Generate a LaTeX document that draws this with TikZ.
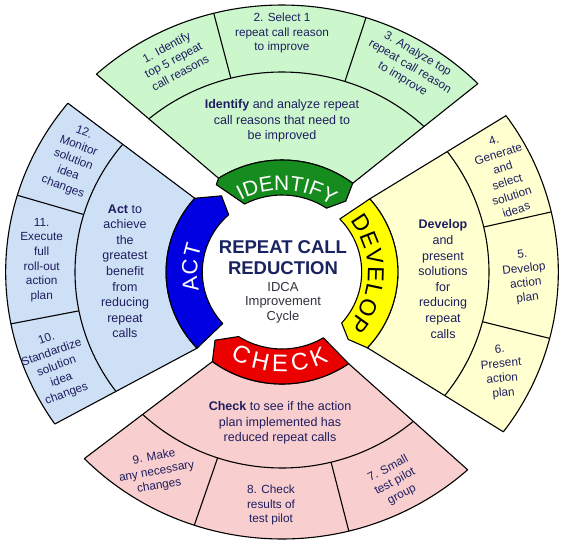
\documentclass[tikz,border=0pt]{standalone}
\usepackage{fontspec}
\setmainfont{Liberation Sans}
\usetikzlibrary{decorations.text}
\definecolor{gfill}{RGB}{204,247,204}
\definecolor{yfill}{RGB}{255,255,208}
\definecolor{rfill}{RGB}{248,206,206}
\definecolor{bfill}{RGB}{206,224,246}
\definecolor{gband}{RGB}{22,140,30}
\definecolor{yband}{RGB}{255,255,0}
\definecolor{rband}{RGB}{235,0,0}
\definecolor{bband}{RGB}{0,0,225}
\definecolor{txt}{RGB}{30,30,95}
\definecolor{navy}{RGB}{25,35,95}
\definecolor{subc}{RGB}{50,50,60}
\newcommand\mysector[6]{%
 \pgfmathsetmacro\aO{#2+asin(#3/267)}%
 \pgfmathsetmacro\bO{#4+asin(#5/267)}%
 \pgfmathsetmacro\aI{#2+asin(#3/112)}%
 \pgfmathsetmacro\bI{#4+asin(#5/112)}%
 \pgfmathsetmacro\aM{#2+asin(#3/#6)}%
 \pgfmathsetmacro\bM{#4+asin(#5/#6)}%
 \filldraw[fill=#1] (\aO:267) arc[start angle=\aO, end angle=\bO, radius=267] -- (\bI:112) arc[start angle=\bI, end angle=\aI, radius=112] -- cycle;
 \draw (\aM:#6) arc[start angle=\aM, end angle=\bM, radius=#6];
}
\tikzset{
 cell/.style={align=center, text=txt, font=\fontsize{11.8}{14.6}\selectfont, inner sep=0pt},
 midtext/.style={align=center, text=txt, font=\fontsize{12.5}{15.6}\selectfont, inner sep=0pt},
 bandtext/.style={decorate, decoration={text along path, text align={fit to path}, text={#1}}}
}
\begin{document}
\begin{tikzpicture}[x=1pt,y=1pt,line join=round]
\useasboundingbox (-282,-272) rectangle (282,272);
\fill[white] (-282,-272) rectangle (282,272);
\begin{scope}[xscale=1.035, line width=1.1pt]
 % sectors
 \mysector{gfill}{138.6}{-29.8}{39.5}{25}{200}
 \mysector{yfill}{32.3}{16.5}{-32.6}{-19.4}{200}
 \mysector{rfill}{317.3}{-23.7}{218.1}{29}{196}
 \mysector{bfill}{208.9}{27}{142.2}{-6.6}{200}
 % dividers
 \draw (104.3:200) -- (104.3:267);
 \draw (72.3:200) -- (72.3:267);
 \draw (13:200) -- (13:267);
 \draw (-14.4:200) -- (-14.4:267);
 \draw (251.5:196) -- (251.5:267);
 \draw (284:196) -- (284:267);
 \draw (163.3:200) -- (163.3:267);
 \draw (191.2:200) -- (191.2:267);
 % bands
 \filldraw[fill=gband] (123.17:112) arc[start angle=123.17, end angle=52.4, radius=112] -- (49:94) -- (56:77) arc[start angle=56, end angle=118, radius=77] -- (126:108) -- cycle;
 \filldraw[fill=yband] (40.77:112) arc[start angle=40.77, end angle=-42.57, radius=112] -- (-46.5:93) -- (-41.5:77) arc[start angle=-41.5, end angle=43.5, radius=77] -- cycle;
 \filldraw[fill=rband] (305.08:112) arc[start angle=305.08, end angle=233.1, radius=112] -- (226.5:94) -- (237:77) arc[start angle=237, end angle=301.3, radius=77] -- cycle;
 \filldraw[fill=bband] (222.85:112) arc[start angle=222.85, end angle=138.82, radius=112] -- (127.5:96) -- (132:77) arc[start angle=132, end angle=222, radius=77] -- cycle;
\end{scope}
% band texts
\path[bandtext={|\fontsize{21}{21}\selectfont\color{white}|IDENTIFY}] ({84.9*cos(119)},{82*sin(119)}) arc[start angle=119, end angle=57, x radius=84.9, y radius=82];
\path[bandtext={|\fontsize{23}{23}\selectfont\color{black}|DEVELOP}] ({85.9*cos(38)},{83*sin(38)}) arc[start angle=38, end angle=-40, x radius=85.9, y radius=83];
\path[bandtext={|\fontsize{24}{24}\selectfont\color{white}|CHECK}] ({103.5*cos(240)},{100*sin(240)}) arc[start angle=240, end angle=297, x radius=103.5, y radius=100];
\path[bandtext={|\fontsize{22}{22}\selectfont\color{white}|ACT}] ({84.9*cos(193)},{82*sin(193)}) arc[start angle=193, end angle=161, x radius=84.9, y radius=82];
% centre
\node[align=center, text=navy, font=\bfseries\fontsize{18.5}{21.6}\selectfont, inner sep=0pt] (title) at (1,14.5) {REPEAT CALL\\REDUCTION};
\node[align=center, text=subc, font=\fontsize{13}{14.5}\selectfont, inner sep=0pt] (subt) at (1,-30.7) {IDCA\\Improvement\\Cycle};
% green
\node[midtext] (gmid) at (0,151) {\textbf{Identify} and analyze repeat\\call reasons that need to\\be improved};
\node[cell, rotate=28] (c1) at (-108.7,212) {1. Identify\\top 5 repeat\\call reasons};
\node[cell] (c2) at (0,239) {2. Select 1\\repeat call reason\\to improve};
\node[cell, rotate=-31] (c3) at (128,205.3) {3. Analyze top\\repeat call reason\\to improve};
% yellow
\node[midtext] (ymid) at (161,-7) {\textbf{Develop}\\and\\present\\solutions\\for\\reducing\\repeat\\calls};
\node[cell, rotate=18] (c4) at (223,97) {4.\\Generate\\and\\select\\solution\\ideas};
\node[cell, rotate=7] (c5) at (243,-4.7) {5.\\Develop\\action\\plan};
\node[cell, rotate=5] (c6) at (219.7,-99.7) {6.\\Present\\action\\plan};
% red
\node[midtext] (rmid) at (-2,-151) {\textbf{Check} to see if the action\\plan implemented has\\reduced repeat calls};
\node[cell, rotate=28] (c7) at (113,-209.7) {7. Small\\test pilot\\group};
\node[cell] (c8) at (-11,-233) {8. Check\\results of\\test pilot};
\node[cell, rotate=10] (c9) at (-125.3,-199.7) {9. Make\\any necessary\\changes};
% blue
\node[midtext] (bmid) at (-157,0.7) {\textbf{Act} to\\achieve\\the\\greatest\\benefit\\from\\reducing\\repeat\\calls};
\node[cell, rotate=20] (c10) at (-225.3,-94.7) {10.\\Standardize\\solution\\idea\\changes};
\node[cell] (c11) at (-240.3,12) {11.\\Execute\\full\\roll-out\\action\\plan};
\node[cell, rotate=-21] (c12) at (-208.7,112) {12.\\Monitor\\solution\\idea\\changes};
\end{tikzpicture}
\end{document}
